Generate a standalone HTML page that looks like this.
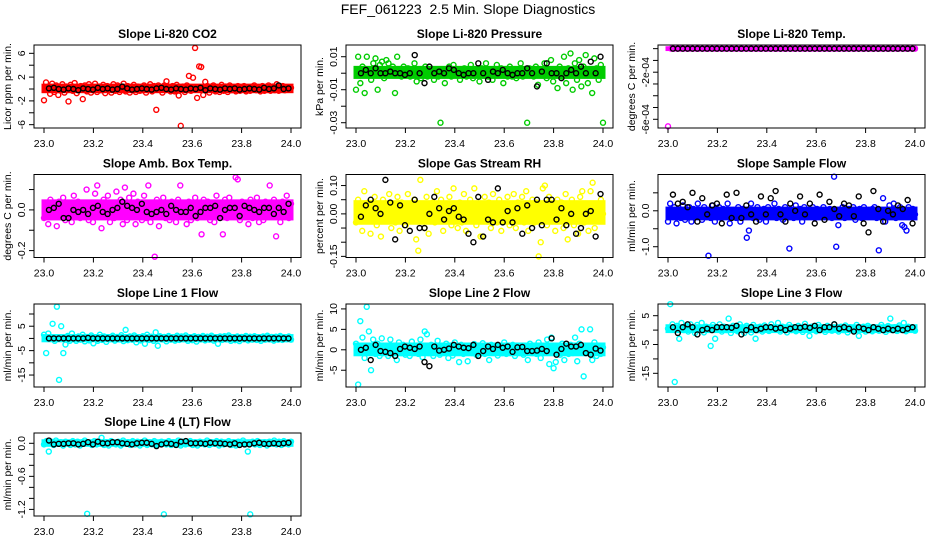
<!DOCTYPE html>
<html><head><meta charset="utf-8"><style>
body{margin:0;background:#fff;}
svg{display:block;font-family:"Liberation Sans",sans-serif;}
</style></head><body>
<svg id="chart" width="936" height="540" viewBox="0 0 936 540">
<rect width="936" height="540" fill="#fff"/>
<text x="468" y="14" text-anchor="middle" font-size="14">FEF_061223&#160; 2.5 Min. Slope Diagnostics</text>
</svg>
<script>
const xTicks=[23.0,23.2,23.4,23.6,23.8,24.0];
const xTickLabels=["23.0","23.2","23.4","23.6","23.8","24.0"];
const co2Main=[-1.9,1.1,0.3,-0.8,0.9,-0.5,0.6,-1.0,0.2,0.8,-0.6,0.4,-2.1,0.7,-0.3,1.0,-0.7,0.3,0.5,-1.7,0.6,-0.4,0.8,-0.6,0.2,0.9,-0.5,0.4,-0.2,0.7,-0.7,0.5,0.1,-0.6,0.8,-0.3,0.6,-0.5,0.3,0.9,-0.4,0.5,-0.6,0.2,0.7,-0.5,0.4,-0.3,-0.2,0.6,-0.6,0.3,0.8,-0.4,0.5,-3.5,0.6,0.2,-0.6,0.6,1.3,0.4,-0.4,0.5,-0.4,0.7,-1.1,-6.2,0.4,-0.5,0.6,2.2,-0.3,1.9,6.9,-1.5,3.8,3.7,-1.0,1.2,0.5,-0.6,0.4,0.6,-0.4,0.3,-0.5,0.7,-0.3,0.4,-0.5,0.6,-0.2,0.3,-0.4,0.5,-0.3,0.2,0.5,-0.4,0.3,-0.3,0.4,0.6,-0.2,0.3,-0.4,0.5,-0.3,0.2,0.6,-0.3,0.4,-0.2,0.8,-0.3,0.3,0.5,-0.2,0.3,-0.1,0.2];
const co2Black=[0.1,0.2,0,-0.1,0.1,0,-0.2,0.1,0,-0.1,0.2,0,0.1,-0.1,0,0.4,0.1,-0.1,0,0.1,0,-0.1,0.1,0.2,0,-0.1,0.1,0,-0.1,0.1,0,0.2,-0.2,0.1,0,-0.1,0.1,0,0.1,-0.1,0,0.1,0,-0.1,0.2,0,0.1,0.6,0,0.1];
const presMain=[-0.010,0.010,-0.006,0.004,-0.012,0.010,0.002,-0.004,0.006,0.009,-0.010,0.005,0.007,-0.003,0.008,0.006,-0.001,0.004,-0.012,0.010,0.002,-0.002,0.004,-0.001,0.003,-0.002,0.001,0.006,-0.005,0.002,-0.003,0.001,0.004,-0.002,0.000,0.002,-0.004,0.001,-0.002,-0.030,0.002,-0.006,0.001,0.004,-0.002,0.005,-0.001,0.002,-0.004,0.000,0.003,-0.002,0.001,0.005,-0.003,0.002,0.000,-0.005,0.003,-0.001,0.006,-0.002,0.001,-0.004,0.002,0.005,-0.001,0.003,-0.006,0.001,-0.002,0.004,-0.002,0.001,-0.003,0.002,0.006,-0.002,0.001,-0.030,0.003,0.000,-0.002,0.004,-0.007,0.002,-0.001,0.006,-0.003,0.001,0.008,-0.005,0.002,-0.009,0.004,-0.002,0.010,-0.006,0.003,0.012,-0.010,0.006,-0.004,0.008,-0.008,0.004,0.011,-0.006,0.002,-0.012,0.009,0.003,-0.004,0.005,-0.030];
const presBlack=[0.000,0.002,0.000,0.003,0.000,0.000,0.001,0.000,0.000,-0.001,0.000,0.011,0.000,-0.006,0.004,0.000,0.001,0.000,0.003,0.002,0.000,-0.001,0.000,0.000,0.006,0.000,-0.004,0.001,0.000,0.002,0.000,-0.001,0.000,0.000,0.003,0.000,-0.008,0.001,0.006,0.000,0.000,-0.003,0.000,0.002,0.000,0.004,0.000,0.007,0.000,0.010];
const tempMain=[-0.00066,0,0,0,0,0,0,0,0,0,0,0,0,0,0,0,0,0,0,0,0,0,0,0,0,0,0,0,0,0,0,0,0,0,0,0,0,0,0,0,0,0,0,0,0,0,0,0,0,0,0,0,0,0,0,0,0,0,0,0,0,0,0,0,0,0,0,0,0,0,0,0,0,0,0,0,0,0,0,0];
const tempBlack=[0,0,0,0,0,0,0,0,0,0,0,0,0,0,0,0,0,0,0,0,0,0,0,0,0,0,0,0,0,0,0,0,0,0,0,0,0,0,0,0,0,0,0,0,0,0,0,0,0,0];
const ambMain=[-0.04,0.02,-0.07,0.05,-0.02,0.01,-0.08,0.04,-0.03,0.06,-0.05,0.03,0.00,-0.06,0.07,-0.02,0.04,-0.04,0.02,-0.03,0.10,-0.05,0.03,-0.06,0.08,0.12,-0.03,-0.09,0.05,-0.02,0.07,-0.06,0.03,-0.04,0.09,-0.02,0.05,-0.07,0.11,-0.05,0.06,-0.03,0.08,-0.07,0.04,0.02,-0.05,0.07,-0.04,0.12,-0.06,0.03,-0.23,0.05,-0.08,0.02,0.06,-0.04,0.03,-0.05,0.04,0.01,-0.06,0.05,0.12,-0.03,0.02,-0.07,0.04,-0.05,0.03,0.06,-0.04,0.02,-0.12,0.05,-0.02,0.04,-0.05,0.03,-0.06,0.07,-0.03,0.02,-0.12,0.05,-0.04,0.06,-0.02,0.03,0.16,0.15,-0.05,0.04,-0.03,0.02,-0.07,0.05,-0.04,0.03,0.06,-0.06,0.02,-0.05,0.04,-0.03,0.12,-0.02,0.05,-0.13,0.03,-0.06,0.04,-0.02,0.07,-0.04,0.03];
const ambBlack=[0.00,0.01,0.03,-0.04,-0.04,0.00,-0.01,0.00,-0.02,0.01,0.02,-0.01,-0.02,0.00,0.01,0.04,0.02,0.01,0.00,0.03,-0.01,-0.02,-0.01,0.00,-0.02,0.02,0.00,-0.01,-0.01,0.01,-0.03,-0.01,0.01,0.01,0.02,-0.04,0.00,0.01,0.01,-0.03,0.02,0.01,0.00,-0.01,0.01,0.01,-0.02,0.01,-0.01,0.03];
const rhMain=[-0.03,0.05,0.02,-0.06,0.08,-0.01,0.04,-0.07,0.03,0.06,-0.04,0.01,-0.08,0.05,-0.02,0.03,0.07,-0.05,0.02,-0.03,0.06,-0.06,0.04,0.00,-0.04,0.07,0.02,-0.02,0.05,-0.09,-0.13,0.12,0.03,-0.05,0.06,-0.07,0.01,0.04,-0.03,0.08,-0.02,0.05,-0.06,0.03,-0.01,0.06,-0.04,0.09,0.02,-0.05,0.04,-0.03,0.07,-0.06,0.02,0.05,-0.02,0.09,-0.04,0.03,-0.08,-0.08,0.06,-0.02,0.04,-0.05,0.07,0.01,-0.03,0.05,-0.06,0.03,-0.01,0.06,-0.04,0.02,0.07,-0.05,0.04,-0.02,0.06,-0.03,0.08,-0.06,0.02,0.05,-0.03,0.04,-0.15,-0.10,0.09,0.10,-0.04,0.06,-0.02,0.03,-0.06,0.05,-0.01,0.04,-0.05,0.07,-0.09,0.02,0.05,-0.04,0.03,-0.07,0.06,0.08,-0.03,0.02,-0.06,0.08,0.11,-0.05,0.03,-0.02,0.05,0.00];
const rhBlack=[-0.01,0.03,0.05,0.02,0.00,0.12,0.04,-0.09,0.03,-0.04,-0.06,0.05,-0.05,-0.05,0.00,0.06,0.02,-0.02,0.01,0.02,-0.01,-0.02,-0.07,-0.10,0.06,-0.08,-0.02,-0.03,0.09,-0.03,0.01,-0.03,0.02,-0.07,0.03,-0.05,0.05,-0.04,0.05,0.05,-0.02,0.02,-0.04,0.00,-0.07,-0.05,0.00,0.01,-0.08,0.07];
const flowMain=[-0.3,0.2,-0.1,0.1,-0.35,0.0,-0.2,0.15,-0.25,-0.05,0.1,-0.3,0.05,-0.15,0.2,-0.1,-0.25,0.1,0.0,-1.25,-0.2,0.15,-0.3,-0.05,0.1,-0.2,0.05,-0.15,0.2,-0.35,-0.1,0.0,-0.2,0.1,-0.3,0.05,-0.05,-0.75,-0.55,0.2,-0.2,0.0,0.1,-0.25,-0.1,0.05,-0.3,0.1,-0.15,0.0,0.2,-0.2,0.05,-0.1,-0.25,0.1,-0.05,-1.05,0.0,-0.2,0.15,-0.1,0.05,-0.3,0.1,-0.15,0.0,-0.05,0.1,-0.2,0.05,-0.1,0.0,0.1,-0.15,-0.05,0.05,-0.2,0.95,-1.0,-0.4,0.0,0.1,-0.2,-0.05,0.05,-0.15,0.1,-0.25,0.0,0.05,-0.2,0.1,-0.1,0.0,-0.15,0.05,0.1,-0.2,-1.1,0.0,0.35,-0.3,-0.1,0.15,-0.05,0.2,-0.2,0.0,0.1,-0.4,-0.45,-0.55,0.1,-0.15,0.05,-0.1];
const flowBlack=[0.45,0.2,0.25,0.1,0.5,-0.3,0.35,-0.1,0.15,0.2,-0.35,0.45,-0.2,0.5,-0.2,0.15,-0.1,-0.3,0.4,-0.1,0.35,0.55,-0.1,-0.3,0.2,0.0,0.4,-0.1,0.2,-0.35,0.45,-0.25,0.25,0.05,-0.15,0.2,0.15,-0.15,0.4,-0.35,-0.6,0.55,0.05,-0.3,0.0,-0.1,0.15,0.05,0.3,-0.35];
const l1Main=[1.5,-6,2,0,6,-1,13,-17,5,-6,-2.5,1,-1,2,0.5,-1,0.8,-0.5,1.5,-1.2,0.6,-0.8,1.2,-2,0.4,-1.0,1.5,-0.6,0.8,-1.4,0.5,-0.3,1.1,-0.9,0.6,-0.4,1.3,-1.1,3.5,-0.7,0.8,-0.5,1.2,-1.6,0.4,-0.8,0.9,-2.2,1.5,-0.6,0.7,-1.0,2.5,-3,0.9,-0.4,0.6,-1.2,1.0,-0.5,0.4,-0.9,1.1,-0.6,0.8,-0.3,1.2,-1.0,0.5,-0.7,0.9,-1.3,0.6,-0.4,1.0,-0.8,0.7,-0.5,1.1,-0.9,0.4,-2.2,0.8,-0.6,0.9,-0.4,1.2,-1.0,0.5,-0.7,0.8,-1.1,0.6,-0.3,1.0,-0.8,0.7,-0.5,0.9,-0.6,0.4,-1.0,0.8,-0.5,1.1,-0.4,0.6,-0.9,0.7,-0.5,1.0,-0.6,0.4,-0.3,0.8,-0.5];
const l1Black=[0,0,0,0,0,0,0,0,0.2,0,0,0,0,0,0,0,0,0,0,0,0,0,0,0,0,0,0,0,0,0,0,0,0,0,0,0,0,0,0,0,0,0,0,0,0,0,0,0,0,0];
const l2Main=[1.5,-8.5,7,3,-2,10.5,4.5,-5,2.5,-1,1.5,-1.5,2.8,-0.5,1,-1.5,2.5,-1,0.5,-2.5,1.8,-0.8,1.2,-1.2,0.6,-1.5,2,-0.6,1.0,-1.0,2.5,-1.8,4.5,3.8,-0.8,1.2,-1.5,0.8,2.2,-1.2,0.6,-0.5,1.5,-2.0,0.8,-1.4,1.8,-0.6,-3,1.2,-1.0,0.5,-2.8,1.0,-0.8,1.4,-1.2,0.6,-0.4,1.6,-1.0,0.8,-2.5,1.2,-0.6,0.9,-1.4,0.5,-0.8,1.8,-1.0,0.6,-0.5,1.2,-1.5,0.8,-0.6,1.0,-1.2,0.7,-2.5,1.5,-0.8,0.6,-1.0,1.8,-2,0.9,-0.6,2.5,-3.5,3,-4.5,-3,0.8,-1.2,1.5,-2.5,0.6,-1.0,1.2,-0.8,3,-2.8,1.5,5,-6.5,-0.6,1.0,5,-2.5,1.8,-1.5,0.5,-1.0,0.6];
const l2Black=[0,0.5,-2.5,1.2,-0.3,-0.5,-0.8,-1.5,0.2,0.8,0.5,0.2,0.8,-3,-4,0.8,-0.2,0,0.3,1.2,0.8,0.5,0.4,1.2,-1.5,-0.3,0.8,0.2,1.2,0.5,0.8,-0.5,0.6,0.7,-0.3,-0.3,-0.2,0.2,-0.3,2.8,-1.2,0.2,1.5,0.8,0.8,1.2,-0.8,-1.2,0.3,-0.2];
const l3Main=[0.5,9,2,-18,1.5,-3,2.5,0,1.5,-0.5,2,0.8,-1,1.8,0,2.5,-0.8,1.2,0.5,-5.5,1.8,-3,0.5,2,-0.5,1.2,0,4,-1,1.5,0.8,-0.4,2,0.2,-1,1.5,0.6,-0.8,1.8,-3,0,1.2,-0.5,1.6,0.5,-0.3,2,0.2,1,2.5,-0.5,1.2,0.3,-0.8,1.8,0,1,-0.4,1.5,0.5,-0.6,2.2,0.2,-2,1.2,0.6,-0.4,1.8,0,1.0,-0.6,1.5,0.3,-0.2,2,0.5,-0.5,1.2,0,1.6,-0.8,1.0,0.4,-0.3,1.8,-2,0.6,1.2,-0.5,1.5,0.2,-0.4,1.0,0.6,-0.2,1.8,0.3,-0.6,1.4,4,0,1.0,-0.3,1.6,0.5,2.5,-0.4,1.2,0.2,0.8,-0.2];
const l3Black=[1,-1,1,2,1,-1.5,0,0.5,0,1,1,1,0.8,1.5,-1.5,0,1,0,0.5,1,1,0.5,0.8,0,0.5,1,0.8,1.2,0.8,1.5,0,1,1,2,0.5,1,0.5,-0.5,1,0.5,0,1,0.5,0,0.5,0,0.5,0,0.5,1];
const l4Main=[-0.02,0.04,-0.15,0.03,-0.03,0.05,-0.01,0.02,-0.04,0.03,0.01,-0.03,0.04,-0.02,0.03,-0.04,0.02,0.05,-1.28,0.01,-0.03,0.04,-0.02,0.03,0.1,-0.03,0.02,-0.04,0.04,0.01,-0.02,0.03,-0.04,0.05,-0.01,0.02,-0.03,0.04,-0.02,0.03,-0.04,0.01,0.05,-0.03,0.02,-0.02,0.04,-0.03,0.01,0.03,-1.29,-0.02,0.04,-0.03,0.02,-0.01,0.05,-0.04,0.03,-0.02,0.01,0.04,-0.03,0.02,-0.04,0.03,0.01,-0.02,0.05,-0.03,0.02,-0.01,0.04,-0.04,0.03,-0.02,0.01,0.04,-0.03,0.02,-0.04,0.03,-0.01,0.05,-0.02,-0.15,-1.29,0.03,-0.02,0.04,-0.03,0.01,0.02,-0.04,0.03,-0.01,0.05,-0.02,0.03,-0.03,0.04,0.01,-0.02,0.03];
const l4Black=[0.05,-0.02,-0.01,-0.01,0,0,-0.02,-0.01,0.02,-0.02,0.03,0,0,0.02,0.02,0,-0.01,-0.02,0,0.01,0.01,-0.01,-0.05,-0.02,0,-0.01,-0.03,0.03,0.04,0,0,0,-0.01,0.01,0,0,-0.01,-0.02,0,-0.03,-0.02,-0.02,0,0.01,-0.01,-0.01,0,-0.01,0,0.01];

const panels=[
 {name:"co2",title:"Slope Li-820 CO2",ylab:"Licor ppm per min.",col:"#ff0000",lo:-6.56,hi:7.4,ticks:[-6,-4,-2,0,2,4,6],labels:{"-6":"-6","-2":"-2","2":"2","6":"6"},main:co2Main,black:co2Black},
 {name:"pressure",title:"Slope Li-820 Pressure",ylab:"kPa per min.",col:"#00cc00",lo:-0.0332,hi:0.0171,ticks:[-0.03,-0.02,-0.01,0,0.01],labels:{"-0.03":"-0.03","-0.01":"-0.01","0.01":"0.01"},main:presMain,black:presBlack},
 {name:"temp",title:"Slope Li-820 Temp.",ylab:"degrees C per min.",col:"#ff00ff",lo:-0.000674,hi:0.000031,ticks:[0,-0.0001,-0.0002,-0.0003,-0.0004,-0.0005,-0.0006],labels:{"-0.0002":"-2e-04","-0.0006":"-6e-04"},main:tempMain,black:tempBlack},
 {name:"amb-temp",title:"Slope Amb. Box Temp.",ylab:"degrees C per min.",col:"#ff00ff",lo:-0.234,hi:0.174,ticks:[-0.2,-0.1,0,0.1],labels:{"-0.2":"-0.2","0":"0.0"},main:ambMain,black:ambBlack},
 {name:"rh",title:"Slope Gas Stream RH",ylab:"percent per min.",col:"#ffff00",lo:-0.154,hi:0.139,ticks:[-0.15,-0.1,-0.05,0,0.05,0.1],labels:{"-0.15":"-0.15","0":"0.00","0.1":"0.10"},main:rhMain,black:rhBlack},
 {name:"sample-flow",title:"Slope Sample Flow",ylab:"ml/min per min.",col:"#0000ff",lo:-1.3,hi:1.01,ticks:[-1,-0.5,0,0.5],labels:{"-1":"-1.0","0":"0.0"},main:flowMain,black:flowBlack},
 {name:"line1-flow",title:"Slope Line 1 Flow",ylab:"ml/min per min.",col:"#00ffff",lo:-19.9,hi:14.1,ticks:[-15,-10,-5,0,5,10],labels:{"-15":"-15","-5":"-5","5":"5"},main:l1Main,black:l1Black},
 {name:"line2-flow",title:"Slope Line 2 Flow",ylab:"ml/min per min.",col:"#00ffff",lo:-9.1,hi:11.2,ticks:[-5,0,5,10],labels:{"-5":"-5","0":"0","5":"5","10":"10"},main:l2Main,black:l2Black},
 {name:"line3-flow",title:"Slope Line 3 Flow",ylab:"ml/min per min.",col:"#00ffff",lo:-19.75,hi:9.06,ticks:[-15,-10,-5,0,5],labels:{"-15":"-15","-5":"-5","5":"5"},main:l3Main,black:l3Black},
 {name:"line4-flow",title:"Slope Line 4 (LT) Flow",ylab:"ml/min per min.",col:"#00ffff",lo:-1.32,hi:0.187,ticks:[-1.2,-1.0,-0.8,-0.6,-0.4,-0.2,0],labels:{"-1.2":"-1.2","-0.6":"-0.6","0":"0.0"},main:l4Main,black:l4Black}
];
const NS="http://www.w3.org/2000/svg";
const svg=document.getElementById('chart');
function mk(tag,attrs,parent){const e=document.createElementNS(NS,tag);for(const k in attrs)e.setAttribute(k,attrs[k]);parent.appendChild(e);return e;}
const colL=[34,346,658],rowT=[45,174.5,304,433],BW=267,BH=83;
function quantile(arr,q){const s=arr.slice().sort((a,b)=>a-b);return s[Math.round(q*(s.length-1))];}
panels.forEach((p,idx)=>{
 const L=colL[idx%3],T=rowT[Math.floor(idx/3)],B=T+BH;
 const g=mk('g',{},svg);
 
 
 const xs=v=>L+10+(v-23)*247;
 const ys=v=>B-(v-p.lo)/(p.hi-p.lo)*BH;
 const t=mk('text',{x:L+BW/2,y:T-7,'text-anchor':'middle','font-size':'12','font-weight':'bold'},g);
 t.textContent=p.title;
 
 
 // dense core band from series inner quantiles
 const qlo=quantile(p.main,0.3),qhi=quantile(p.main,0.7);
 const band=mk('rect',{x:xs(23)-2.5,y:ys(qhi)-2.4,width:xs(24)-xs(23)+5,height:Math.max(1,ys(qlo)-ys(qhi)+4.8),fill:p.col},g);
 
 
 const pts=mk('g',{fill:'none','stroke-width':'1.4'},g);
 
 
 p.main.forEach((v,i)=>{const x=23+i/(p.main.length-1);
  const c=mk('circle',{cx:xs(x),cy:ys(v),r:2.5,stroke:p.col},pts);
  
  });
 p.black.forEach((v,i)=>{const x=23.02+0.97*i/(p.black.length-1);
  const c=mk('circle',{cx:xs(x),cy:ys(v),r:2.5,stroke:'#000'},pts);
  
  });
 const box=mk('rect',{x:L,y:T,width:BW,height:BH,fill:'none',stroke:'#000','stroke-width':'1'},g);
 
 
 const xa=mk('g',{},g);
 
 
 xTicks.forEach((v,i)=>{const x=xs(v);
  mk('line',{x1:x,x2:x,y1:B,y2:B+5,stroke:'#000'},xa);
  const tl=mk('text',{x:x,y:B+19,'text-anchor':'middle','font-size':'10.5'},xa);
  tl.textContent=xTickLabels[i];
  
  });
 const ya=mk('g',{},g);
 
 
 p.ticks.forEach(v=>{const y=ys(v);
  mk('line',{x1:L-5,x2:L,y1:y,y2:y,stroke:'#000'},ya);
  const key=String(v);
  if(p.labels[key]!==undefined){
   const tl=mk('text',{x:0,y:0,transform:`translate(${L-9},${y}) rotate(-90)`,'text-anchor':'middle','font-size':'10.5'},ya);
   tl.textContent=p.labels[key];
   
   }});
 const yl=mk('text',{x:0,y:0,transform:`translate(${L-23},${T+BH/2}) rotate(-90)`,'text-anchor':'middle','font-size':'10.5'},g);
 yl.textContent=p.ylab;
 
 
});
</script>
</body></html>
